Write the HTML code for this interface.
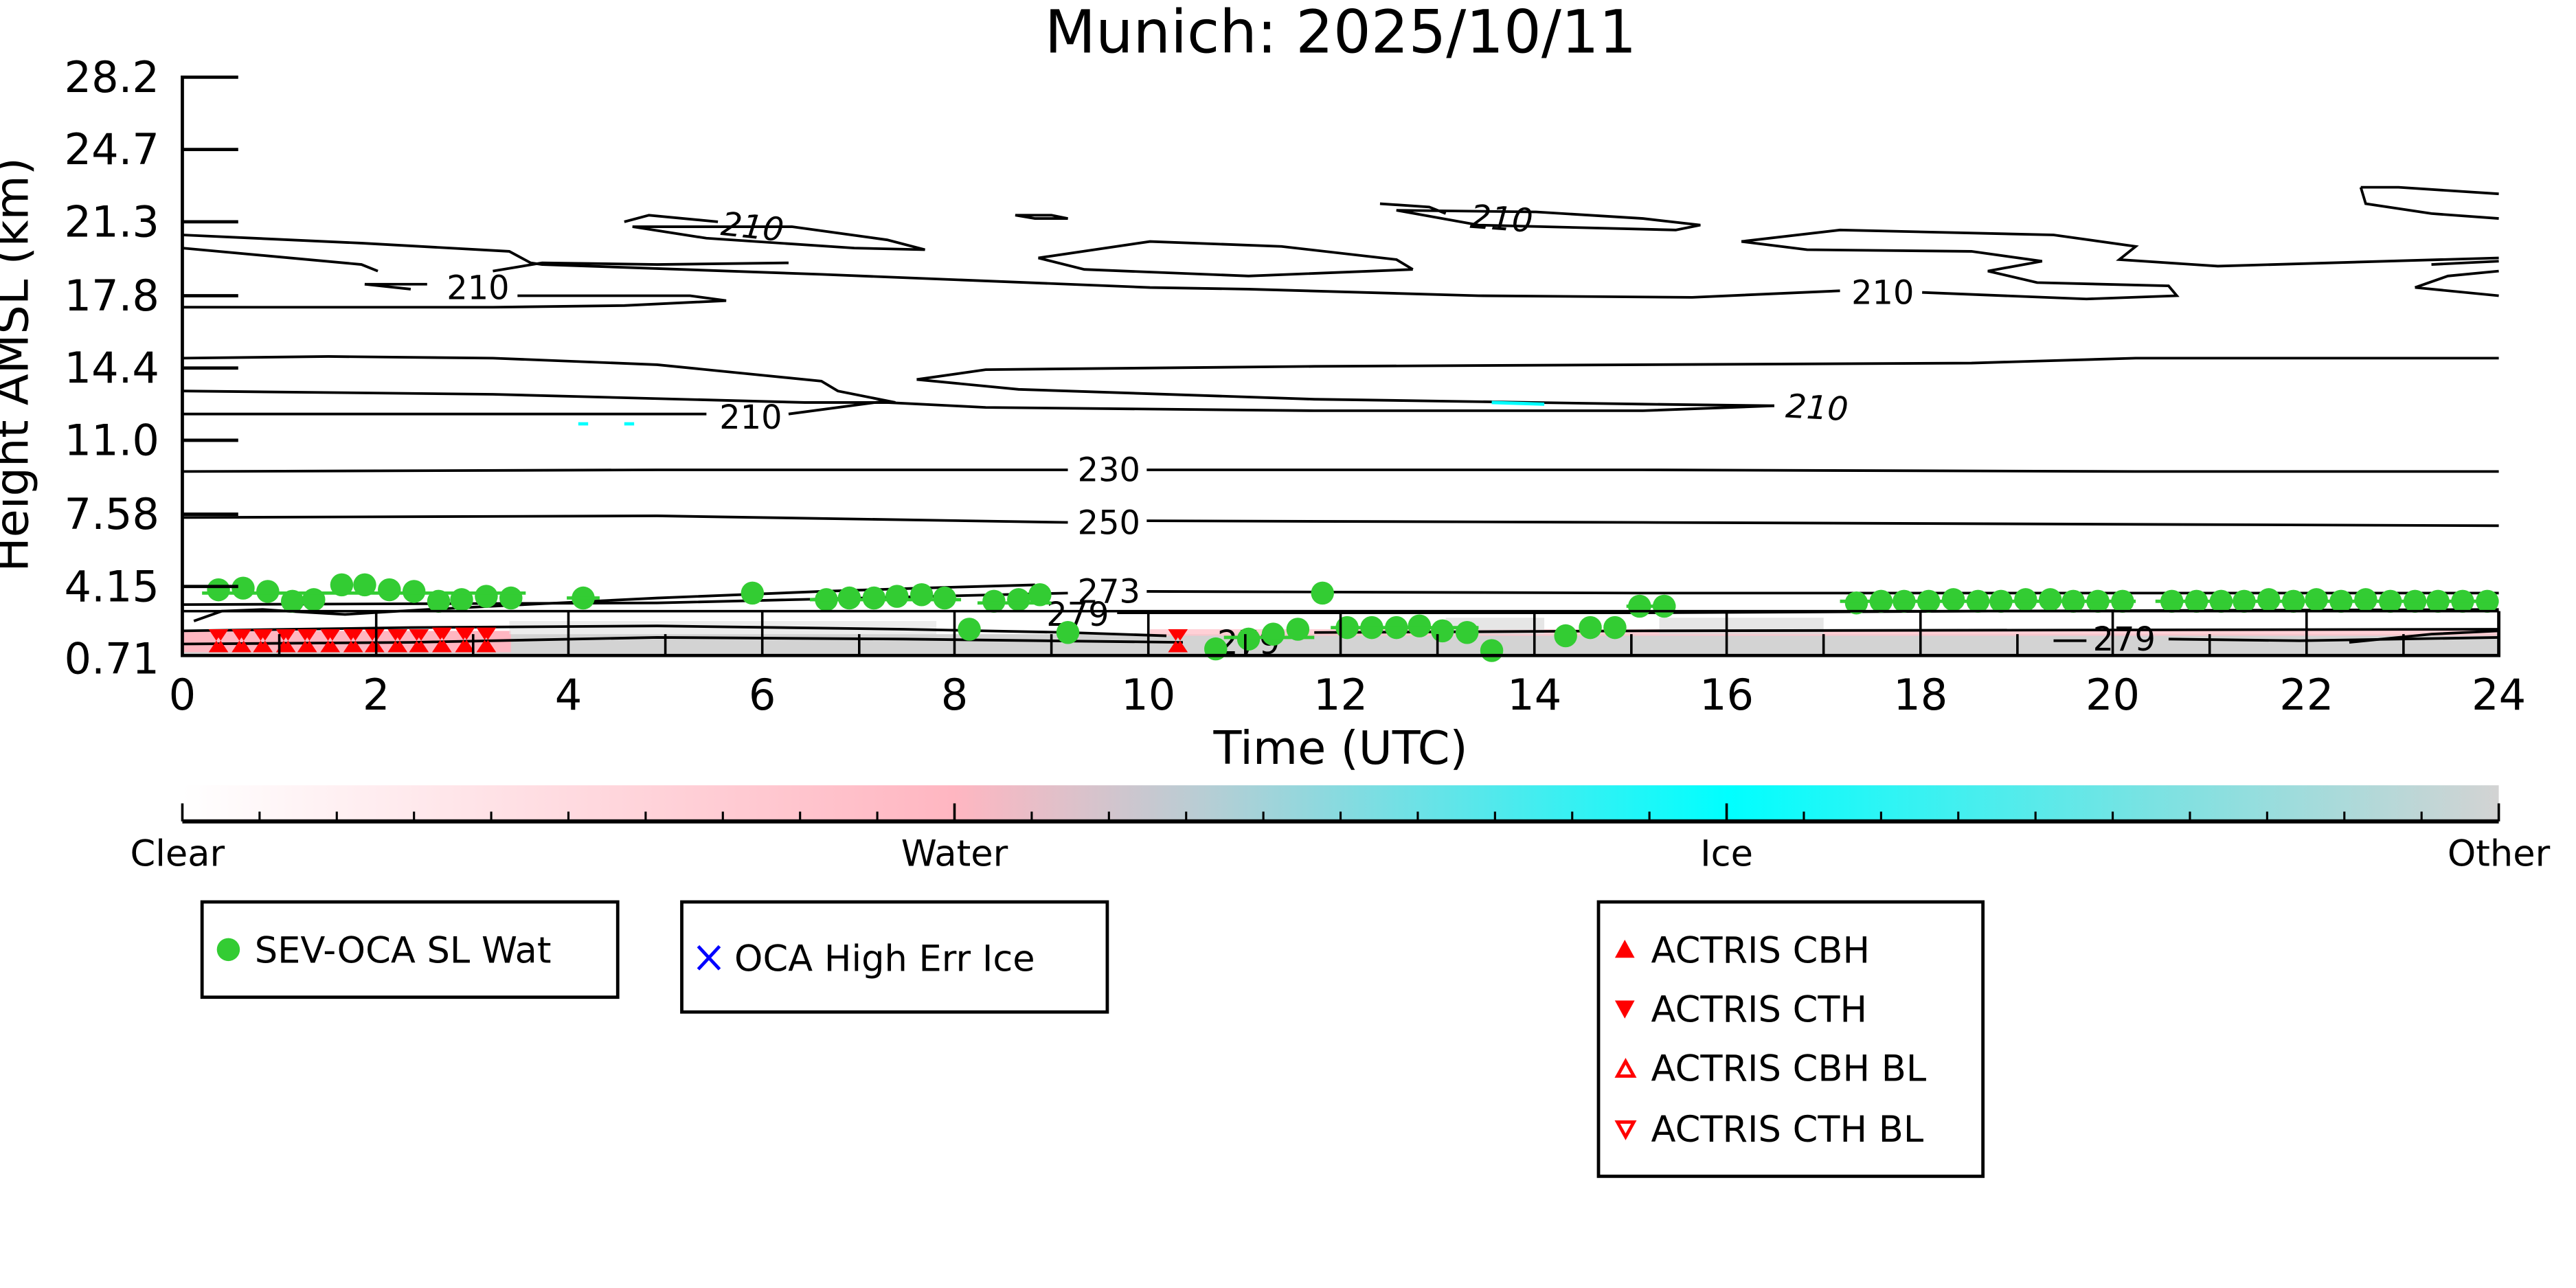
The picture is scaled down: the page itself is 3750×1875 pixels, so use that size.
<!DOCTYPE html>
<html><head><meta charset="utf-8"><style>html,body{margin:0;padding:0;background:#fff;overflow:hidden}svg{display:block}text{font-family:"DejaVu Sans","Liberation Sans",sans-serif}</style></head>
<body>
<svg width="3750" height="1875" viewBox="0 0 1568 784" xmlns="http://www.w3.org/2000/svg">
<defs>
<linearGradient id="cb" x1="0" x2="1" y1="0" y2="0">
<stop offset="0" stop-color="#ffffff"/>
<stop offset="0.333" stop-color="#ffb6c1"/>
<stop offset="0.44" stop-color="#b8cdd4"/>
<stop offset="0.667" stop-color="#00ffff"/>
<stop offset="0.85" stop-color="#7ae2e2"/>
<stop offset="1" stop-color="#d3d3d3"/>
</linearGradient>
</defs>
<rect width="1568" height="784" fill="#fff"/>
<text x="816" y="32" font-size="36" text-anchor="middle">Munich: 2025/10/11</text>

<rect x="111" y="386" width="1410" height="13" fill="#d3d3d3"/>
<rect x="111" y="384" width="200" height="13" fill="#ffb6c1"/>
<rect x="700" y="383" width="820" height="4" fill="#ffc4cc" opacity="0.8"/>
<rect x="310" y="378" width="260" height="8" fill="#e4e4e4" opacity="0.7"/>
<rect x="1010" y="376" width="100" height="10" fill="#dcdcdc" opacity="0.7"/>
<rect x="880" y="376" width="60" height="10" fill="#dcdcdc" opacity="0.7"/>

<g fill="none" stroke="#000" stroke-width="1.6">
<path d="M111,143 L220,148 L310,153 L323,160 L330,161 L500,167 L700,175 L760,176 L900,180 L1030,181 L1120,177"/>
<path d="M111,151 L220,161 L230,165"/>
<path d="M222,173 L260,173 M315,180 L420,180 L442,183 L380,186 L300,187 L111,187"/>
<path d="M222,173 L250,176"/>
<path d="M380,135 L395,131 L437,135 M482,138 L540,146 L563,152 L520,151 L430,145 L385,138 Z"/>
<path d="M618,131 L640,131 L650,133 L630,133 Z"/>
<path d="M632,157 L700,147 L780,150 L850,158 L860,164 M632,157 L660,164 L760,168 L860,164"/>
<path d="M300,165 L330,160 L400,161 L480,160"/>
<path d="M840,124 L870,126 L880,130 M935,129 L1000,133 L1035,137 L1020,140 L900,137 L850,128 Z"/>
<path d="M1060,147 L1120,140 L1250,143 L1300,150 L1290,158 L1350,162 L1521,157"/>
<path d="M1060,147 L1100,152 L1200,153 L1243,159 L1210,165 L1240,172 L1320,174 L1325,180 L1270,182 L1170,178"/>
<path d="M1480,161 L1521,159 M1470,175 L1490,168 L1521,165 M1470,175 L1521,180"/>
<path d="M1437,114 L1460,114 L1521,118 M1437,114 L1440,124 L1480,130 L1521,133"/>
<path d="M111,218 L200,217 L300,218 L400,222 L500,232 L510,238 L545,245 L520,245"/>
<path d="M111,238 L300,240 L490,245 L540,245 L600,248 L800,250 L1000,250 L1080,247"/>
<path d="M111,252 L250,252 L430,252 M480,252 L540,244"/>
<path d="M558,231 L600,225 L800,223 L1000,222 L1200,221 L1300,218 L1521,218"/>
<path d="M558,231 L620,237 L800,243 L1000,246 L1080,247"/>
<path d="M111,287 L400,286 L650,286 M698,286 L1000,286 L1300,287 L1521,287"/>
<path d="M111,315 L400,314 L650,318 M698,317 L1000,318 L1521,320"/>
<path d="M111,368 L400,367 L650,361 M698,360 L1000,361 L1200,361 L1521,361"/>
<path d="M118,378 L135,372 L160,371 L175,372 L210,374 L260,371 L400,364 L500,360 L560,358 L630,356"/>
<path d="M680,373 L900,373 L1000,373 L1200,372 L1521,371"/>
<path d="M111,384 L250,382 L400,381 L550,383 L650,385 L710,387 M800,385 L1000,384 L1521,383"/>
<path d="M111,392 L250,391 L400,388 L550,389 L720,391 M1250,390 L1270,390 M1320,389 L1400,390 L1521,388"/>
<path d="M1430,391 L1480,386 L1521,384"/>
</g>
<g font-size="20" font-style="italic" text-anchor="middle">
<text x="458" y="145" transform="rotate(6 458 138)">210</text>
<text x="914" y="140" transform="rotate(4 914 133)">210</text>
<text x="1106" y="255" transform="rotate(3 1106 248)">210</text>
</g>
<g font-size="20" text-anchor="middle">
<text x="291" y="182">210</text>
<text x="1146" y="185">210</text>
<text x="457" y="261">210</text>
<text x="675" y="293">230</text>
<text x="675" y="325">250</text>
<text x="675" y="367">273</text>
<text x="656" y="381">279</text>
<text x="760" y="398">279</text>
<text x="1293" y="396">279</text>
</g>
<path d="M352,258 L358,258 M380,258 L386,258 M908,245 L940,246" stroke="#00ffff" stroke-width="2" fill="none"/>

<g fill="#33cc33">
<circle cx="133" cy="359" r="7"/><circle cx="148" cy="358" r="7"/><circle cx="163" cy="360" r="7"/><circle cx="178" cy="366" r="7"/><circle cx="191" cy="365" r="7"/><circle cx="208" cy="356" r="7"/><circle cx="222" cy="356" r="7"/><circle cx="237" cy="359" r="7"/><circle cx="252" cy="360" r="7"/><circle cx="267" cy="366" r="7"/><circle cx="281" cy="365" r="7"/><circle cx="296" cy="363" r="7"/><circle cx="311" cy="364" r="7"/><circle cx="355" cy="364" r="7"/><circle cx="458" cy="361" r="7"/><circle cx="503" cy="365" r="7"/><circle cx="517" cy="364" r="7"/><circle cx="532" cy="364" r="7"/><circle cx="546" cy="363" r="7"/><circle cx="561" cy="362" r="7"/><circle cx="575" cy="364" r="7"/><circle cx="605" cy="366" r="7"/><circle cx="620" cy="365" r="7"/><circle cx="633" cy="362" r="7"/><circle cx="590" cy="383" r="7"/><circle cx="650" cy="385" r="7"/><circle cx="740" cy="395" r="7"/><circle cx="760" cy="389" r="7"/><circle cx="775" cy="386" r="7"/><circle cx="790" cy="383" r="7"/><circle cx="805" cy="361" r="7"/><circle cx="820" cy="382" r="7"/><circle cx="835" cy="382" r="7"/><circle cx="850" cy="382" r="7"/><circle cx="864" cy="381" r="7"/><circle cx="878" cy="384" r="7"/><circle cx="893" cy="385" r="7"/><circle cx="908" cy="396" r="7"/><circle cx="953" cy="387" r="7"/><circle cx="968" cy="382" r="7"/><circle cx="983" cy="382" r="7"/><circle cx="998" cy="369" r="7"/><circle cx="1013" cy="369" r="7"/>
<circle cx="1130" cy="367" r="7"/><circle cx="1145" cy="366" r="7"/><circle cx="1159" cy="366" r="7"/><circle cx="1174" cy="366" r="7"/><circle cx="1189" cy="365" r="7"/><circle cx="1204" cy="366" r="7"/><circle cx="1218" cy="366" r="7"/><circle cx="1233" cy="365" r="7"/><circle cx="1248" cy="365" r="7"/><circle cx="1262" cy="366" r="7"/><circle cx="1277" cy="366" r="7"/><circle cx="1292" cy="366" r="7"/>
<circle cx="1322" cy="366" r="7"/><circle cx="1337" cy="366" r="7"/><circle cx="1352" cy="366" r="7"/><circle cx="1366" cy="366" r="7"/><circle cx="1381" cy="365" r="7"/><circle cx="1396" cy="366" r="7"/><circle cx="1410" cy="365" r="7"/><circle cx="1425" cy="366" r="7"/><circle cx="1440" cy="365" r="7"/><circle cx="1455" cy="366" r="7"/><circle cx="1470" cy="366" r="7"/><circle cx="1484" cy="366" r="7"/><circle cx="1499" cy="366" r="7"/><circle cx="1514" cy="366" r="7"/>
</g>
<g stroke="#33cc33" stroke-width="2">
<path d="M123,361 L320,361 M345,364 L365,364 M493,365 L585,365 M595,367 L640,367 M1120,366 L1300,366 M1312,366 L1521,366 M810,382 L900,382 M745,388 L800,388 M990,369 L1020,369"/>
</g>

<g fill="#ff0000">
<path d="M127,383 h12 l-6,9 z M127,397 h12 l-6,-9 z M141,383 h12 l-6,9 z M141,397 h12 l-6,-9 z M154,383 h12 l-6,9 z M154,397 h12 l-6,-9 z M168,383 h12 l-6,9 z M168,397 h12 l-6,-9 z M181,383 h12 l-6,9 z M181,397 h12 l-6,-9 z M195,383 h12 l-6,9 z M195,397 h12 l-6,-9 z M209,383 h12 l-6,9 z M209,397 h12 l-6,-9 z M222,383 h12 l-6,9 z M222,397 h12 l-6,-9 z M236,383 h12 l-6,9 z M236,397 h12 l-6,-9 z M249,383 h12 l-6,9 z M249,397 h12 l-6,-9 z M263,382 h12 l-6,9 z M263,397 h12 l-6,-9 z M277,382 h12 l-6,9 z M277,397 h12 l-6,-9 z M290,382 h12 l-6,9 z M290,397 h12 l-6,-9 z"/>
<path d="M711,383 h12 l-6,9 z M711,397 h12 l-6,-9 z"/>
</g>

<g stroke="#000" fill="none">
<path d="M111,46 V399 H1521 V372" stroke-width="2"/>
<path d="M111,372 H1521" stroke-width="1.5"/>
<path d="M111,47 H145 M111,91 H145 M111,135 H145 M111,180 H145 M111,224 H145 M111,268 H145 M111,313 H145 M111,357 H145" stroke-width="2"/>
<path d="M229,372 V399 M346,372 V399 M464,372 V399 M581,372 V399 M699,372 V399 M816,372 V399 M934,372 V399 M1051,372 V399 M1169,372 V399 M1286,372 V399 M1404,372 V399" stroke-width="1.5"/>
<path d="M170,386 V399 M288,386 V399 M405,386 V399 M523,386 V399 M640,386 V399 M758,386 V399 M875,386 V399 M993,386 V399 M1110,386 V399 M1228,386 V399 M1345,386 V399 M1463,386 V399" stroke-width="1.5"/>
</g>
<g font-size="26" text-anchor="end">
<text x="97" y="56">28.2</text><text x="97" y="100">24.7</text><text x="97" y="144">21.3</text><text x="97" y="189">17.8</text><text x="97" y="233">14.4</text><text x="97" y="277">11.0</text><text x="97" y="322">7.58</text><text x="97" y="366">4.15</text><text x="97" y="410">0.71</text>
</g>
<g font-size="26" text-anchor="middle">
<text x="111" y="432">0</text><text x="229" y="432">2</text><text x="346" y="432">4</text><text x="464" y="432">6</text><text x="581" y="432">8</text><text x="699" y="432">10</text><text x="816" y="432">12</text><text x="934" y="432">14</text><text x="1051" y="432">16</text><text x="1169" y="432">18</text><text x="1286" y="432">20</text><text x="1404" y="432">22</text><text x="1521" y="432">24</text>
</g>
<text x="816" y="465" font-size="28" text-anchor="middle">Time (UTC)</text>
<text transform="translate(17,222) rotate(-90)" font-size="28" text-anchor="middle">Height AMSL (km)</text>

<rect x="111" y="478" width="1410" height="22" fill="url(#cb)"/>
<g stroke="#000" fill="none">
<path d="M111,500 H1521" stroke-width="2.5"/>
<path d="M111,489 V500 M581,489 V500 M1051,489 V500 M1521,489 V500" stroke-width="1.5"/>
<path d="M158,494 V500 M205,494 V500 M252,494 V500 M299,494 V500 M346,494 V500 M393,494 V500 M440,494 V500 M487,494 V500 M534,494 V500 M628,494 V500 M675,494 V500 M722,494 V500 M769,494 V500 M816,494 V500 M863,494 V500 M910,494 V500 M957,494 V500 M1004,494 V500 M1098,494 V500 M1145,494 V500 M1192,494 V500 M1239,494 V500 M1286,494 V500 M1333,494 V500 M1380,494 V500 M1427,494 V500 M1474,494 V500" stroke-width="1.3"/>
</g>
<g font-size="22" text-anchor="middle">
<text x="108" y="527">Clear</text><text x="581" y="527">Water</text><text x="1051" y="527">Ice</text><text x="1521" y="527">Other</text>
</g>

<g fill="none" stroke="#000" stroke-width="2">
<rect x="123" y="549" width="253" height="58"/>
<rect x="415" y="549" width="259" height="67"/>
<rect x="973" y="549" width="234" height="167"/>
</g>
<circle cx="139" cy="578" r="7" fill="#33cc33"/>
<text x="155" y="586" font-size="22">SEV-OCA SL Wat</text>
<path d="M425,576 L438,590 M438,576 L425,590" stroke="#0000ff" stroke-width="2"/>
<text x="447" y="591" font-size="22">OCA High Err Ice</text>
<path d="M983,583 h12 l-6,-11 z" fill="#f00"/>
<path d="M983,609 h12 l-6,11 z" fill="#f00"/>
<path d="M984.5,655 h10 l-5,-9 z" fill="none" stroke="#f00" stroke-width="2"/>
<path d="M984.5,683 h10 l-5,9 z" fill="none" stroke="#f00" stroke-width="2"/>
<g font-size="22">
<text x="1005" y="586">ACTRIS CBH</text>
<text x="1005" y="622">ACTRIS CTH</text>
<text x="1005" y="658">ACTRIS CBH BL</text>
<text x="1005" y="695">ACTRIS CTH BL</text>
</g>
</svg>
</body></html>
